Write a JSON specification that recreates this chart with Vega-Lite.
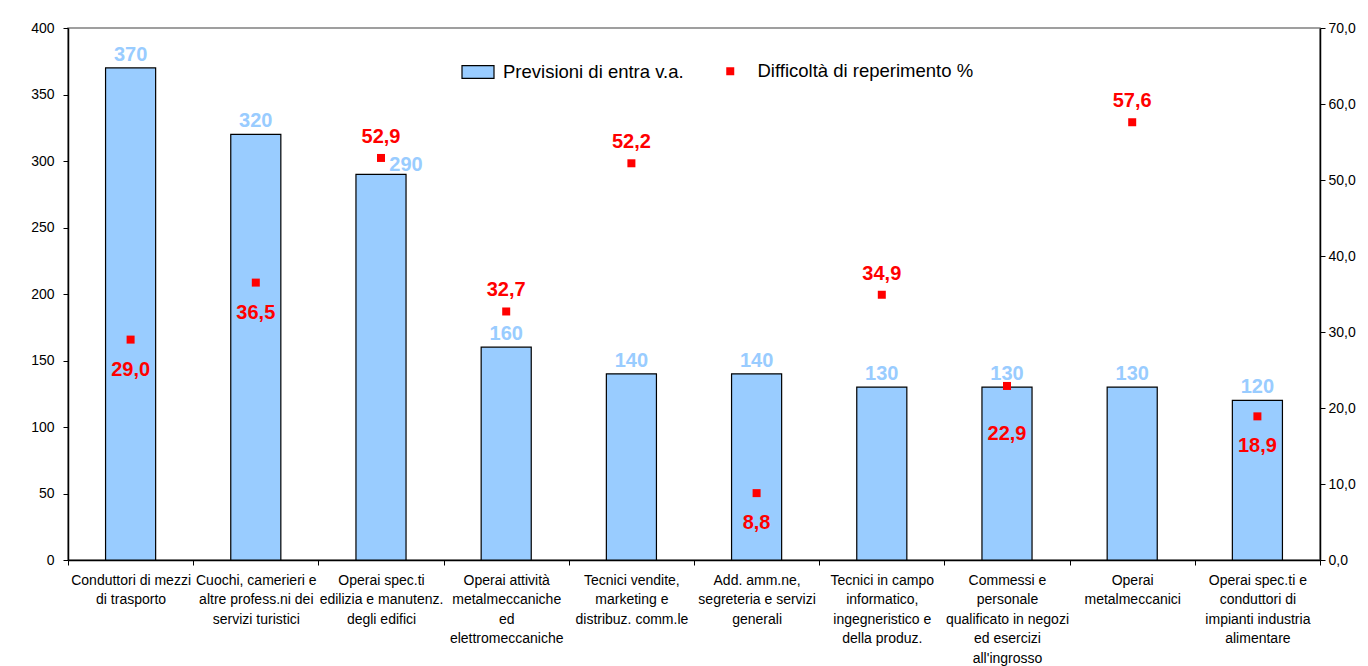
{
  "$schema": "https://vega.github.io/schema/vega-lite/v6.json",
  "width": 1252,
  "height": 532,
  "autosize": {"type": "none"},
  "padding": {"left": 68, "top": 28, "right": 48, "bottom": 106},
  "background": "white",
  "config": {
    "font": "Liberation Sans",
    "locale": {"number": {"decimal": ",", "thousands": ".", "grouping": [3], "currency": ["", " €"]}},
    "view": {"stroke": "#808080", "strokeWidth": 1.5},
    "axis": {"grid": false, "domainColor": "black", "tickColor": "black", "labelColor": "black", "labelFont": "Liberation Sans", "domainWidth": 1.5}
  },
  "data": {"values": [
    {"cat": "Conduttori di mezzi|di trasporto", "entrate": 370, "diff": 29.0, "pos": "below", "barlab": "top"},
    {"cat": "Cuochi, camerieri e|altre profess.ni dei|servizi turistici", "entrate": 320, "diff": 36.5, "pos": "below", "barlab": "top"},
    {"cat": "Operai spec.ti|edilizia e manutenz.|degli edifici", "entrate": 290, "diff": 52.9, "pos": "above", "barlab": "right"},
    {"cat": "Operai  attività|metalmeccaniche|ed|elettromeccaniche", "entrate": 160, "diff": 32.7, "pos": "above", "barlab": "top"},
    {"cat": "Tecnici  vendite,|marketing e|distribuz. comm.le", "entrate": 140, "diff": 52.2, "pos": "above", "barlab": "top"},
    {"cat": "Add. amm.ne,|segreteria e servizi|generali", "entrate": 140, "diff": 8.8, "pos": "below", "barlab": "top"},
    {"cat": "Tecnici in campo|informatico,|ingegneristico e|della produz.", "entrate": 130, "diff": 34.9, "pos": "above", "barlab": "top"},
    {"cat": "Commessi e|personale|qualificato in negozi|ed esercizi|all'ingrosso", "entrate": 130, "diff": 22.9, "pos": "farbelow", "barlab": "top"},
    {"cat": "Operai|metalmeccanici", "entrate": 130, "diff": 57.6, "pos": "above", "barlab": "top"},
    {"cat": "Operai spec.ti e|conduttori di|impianti industria|alimentare", "entrate": 120, "diff": 18.9, "pos": "below", "barlab": "top"}
  ]},
  "encoding": {
    "x": {
      "field": "cat", "type": "nominal", "sort": null, "title": null,
      "scale": {"paddingInner": 0, "paddingOuter": 0},
      "axis": {
        "labelAngle": 0, "labelExpr": "split(datum.label, '|')", "labelFontSize": 14,
        "labelLineHeight": 19.5, "labelPadding": 8, "tickBand": "extent", "tickSize": 5,
        "labelOverlap": false, "labelLimit": 0, "labelBaseline": "top"
      }
    }
  },
  "layer": [
    {
      "layer": [
        {
          "mark": {"type": "bar", "width": {"band": 0.4}, "stroke": "black", "strokeWidth": 1.2},
          "encoding": {
            "y": {"field": "entrate", "type": "quantitative", "title": null,
                  "scale": {"domain": [0, 400]},
                  "axis": {"values": [0, 50, 100, 150, 200, 250, 300, 350, 400], "format": "d", "labelFontSize": 14, "tickSize": 5, "labelPadding": 9}},
            "fill": {"datum": "Previsioni di entra v.a.", "type": "nominal",
                     "scale": {"range": ["#99CCFF"]},
                     "legend": {"title": null, "orient": "none", "legendX": 393, "legendY": 27,
                                "symbolType": "M-1,-0.4H1V0.4H-1Z", "symbolSize": 1024,
                                "symbolStrokeColor": "black", "symbolStrokeWidth": 1.2, "labelLimit": 0,
                                "labelFontSize": 18.5, "labelFont": "Liberation Sans", "labelOffset": 8, "labelColor": "black"}}
          }
        },
        {
          "transform": [{"filter": "datum.barlab === 'top'"}],
          "mark": {"type": "text", "baseline": "bottom", "dy": -3, "fontSize": 20, "fontWeight": "bold", "color": "#99CCFF", "font": "Liberation Sans"},
          "encoding": {
            "y": {"field": "entrate", "type": "quantitative"},
            "text": {"field": "entrate", "type": "quantitative", "format": "d"}
          }
        },
        {
          "transform": [{"filter": "datum.barlab === 'right'"}],
          "mark": {"type": "text", "baseline": "bottom", "dx": 25, "dy": 1, "fontSize": 20, "fontWeight": "bold", "color": "#99CCFF", "font": "Liberation Sans"},
          "encoding": {
            "y": {"field": "entrate", "type": "quantitative"},
            "text": {"field": "entrate", "type": "quantitative", "format": "d"}
          }
        }
      ]
    },
    {
      "layer": [
        {
          "mark": {"type": "point", "shape": "square", "filled": true, "size": 64, "opacity": 1},
          "encoding": {
            "y": {"field": "diff", "type": "quantitative", "title": null,
                  "scale": {"domain": [0, 70]},
                  "axis": {"orient": "right", "values": [0, 10, 20, 30, 40, 50, 60, 70], "format": ".1f", "labelFontSize": 14, "tickSize": 5, "labelPadding": 3}},
            "color": {"datum": "Difficoltà di reperimento %", "type": "nominal",
                      "scale": {"range": ["#FF0000"]},
                      "legend": {"title": null, "orient": "none", "legendX": 653, "legendY": 34,
                                 "symbolType": "square", "symbolSize": 64, "symbolOpacity": 1, "labelLimit": 0,
                                 "labelFontSize": 18.5, "labelFont": "Liberation Sans", "labelOffset": 18, "labelColor": "black"}}
          }
        },
        {
          "transform": [{"filter": "datum.pos === 'above'"}],
          "mark": {"type": "text", "baseline": "middle", "dy": -21, "fontSize": 20, "fontWeight": "bold", "color": "#FF0000", "font": "Liberation Sans"},
          "encoding": {
            "y": {"field": "diff", "type": "quantitative"},
            "text": {"field": "diff", "type": "quantitative", "format": ".1f"}
          }
        },
        {
          "transform": [{"filter": "datum.pos === 'below'"}],
          "mark": {"type": "text", "baseline": "middle", "dy": 30, "fontSize": 20, "fontWeight": "bold", "color": "#FF0000", "font": "Liberation Sans"},
          "encoding": {
            "y": {"field": "diff", "type": "quantitative"},
            "text": {"field": "diff", "type": "quantitative", "format": ".1f"}
          }
        },
        {
          "transform": [{"filter": "datum.pos === 'farbelow'"}],
          "mark": {"type": "text", "baseline": "middle", "dy": 48, "fontSize": 20, "fontWeight": "bold", "color": "#FF0000", "font": "Liberation Sans"},
          "encoding": {
            "y": {"field": "diff", "type": "quantitative"},
            "text": {"field": "diff", "type": "quantitative", "format": ".1f"}
          }
        }
      ]
    }
  ],
  "resolve": {"scale": {"y": "independent", "color": "independent", "fill": "independent"}}
}
